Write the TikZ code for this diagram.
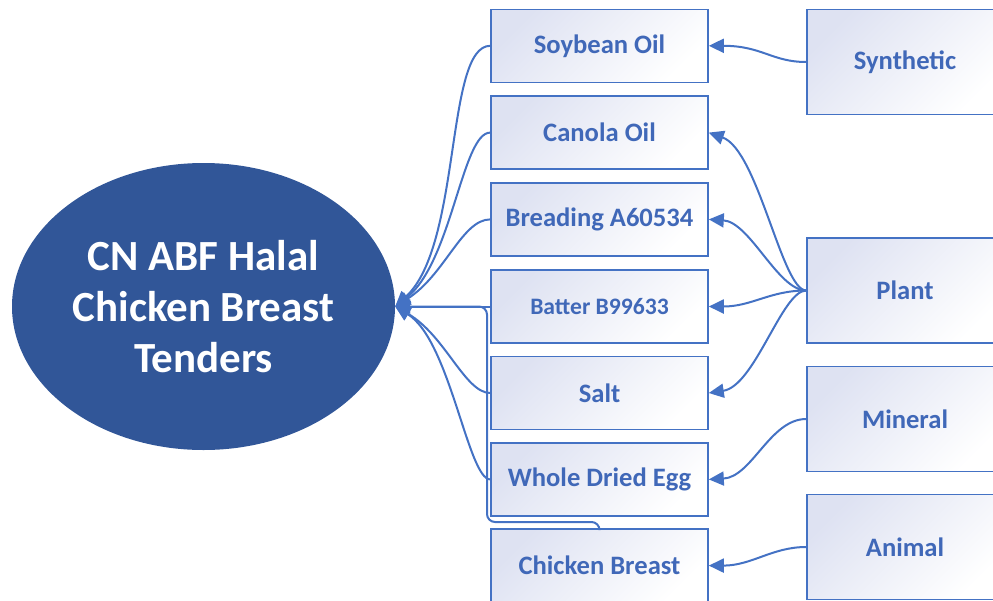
\documentclass[tikz,border=0pt]{standalone}
\usepackage{fontspec}
\setmainfont{Carlito}
\usepackage{tikz}
\usetikzlibrary{shapes.geometric,arrows.meta}
\definecolor{ovalblue}{RGB}{49,86,152}
\definecolor{lineblue}{RGB}{68,114,196}
\definecolor{textblue}{RGB}{64,104,184}
\definecolor{boxtint}{RGB}{222,226,242}
\tikzset{ingr/.style={draw=lineblue,line width=1.6pt,top color=boxtint,bottom color=white,shading angle=45,
    minimum width=217pt,minimum height=73pt,inner sep=0pt,text=textblue,font=\fontsize{26.6}{32}\selectfont\bfseries},
    src/.style={ingr,minimum width=196pt,minimum height=105pt},
    link/.style={draw=lineblue,line width=2pt,-{Triangle[length=15pt,width=14pt]}}}

\begin{document}
\begin{tikzpicture}[x=1pt,y=1pt,yscale=-1,xscale=1]
\useasboundingbox (0,0) rectangle (993,600);

%Shape: Ellipse
\node (cn) [ellipse,fill=ovalblue,minimum width=383pt,minimum height=287pt,inner sep=0pt,align=center,text=white,font=\fontsize{43}{51}\selectfont\bfseries] at (203.5,306.5) {CN ABF Halal\\Chicken Breast\\Tenders};

%Shape: Rectangle
\node (soy) [ingr] at (599.5,45.8) {Soybean Oil};
%Shape: Rectangle
\node (can) [ingr] at (599.5,132.6) {Canola Oil};
%Shape: Rectangle
\node (brd) [ingr] at (599.5,219.4) {Breading A60534};
%Shape: Rectangle
\node (bat) [ingr,font=\fontsize{23.6}{28}\selectfont\bfseries] at (599.5,306.5) {Batter B99633};
%Shape: Rectangle
\node (slt) [ingr] at (599.5,393) {Salt};
%Shape: Rectangle
\node (egg) [ingr] at (599.5,479.4) {Whole Dried Egg};
%Shape: Rectangle
\node (chk) [ingr] at (599.5,565.6) {Chicken Breast};

%Shape: Rectangle
\node (syn) [src] at (905,62) {Synthetic};
%Shape: Rectangle
\node (plant) [src] at (905,290.5) {Plant};
%Shape: Rectangle
\node (mnr) [src] at (905,419) {Mineral};
%Shape: Rectangle
\node (anm) [src] at (905,547) {Animal};

\coordinate (trunk) at (487,522);

%Curve Lines
\draw [link] (soy.west) .. controls (445,45.8) and (462,245) .. (cn.east);
%Curve Lines
\draw [link] (can.west) .. controls (462,132.6) and (452,262) .. (cn.east);
%Curve Lines
\draw [link] (brd.west) .. controls (462,219.4) and (445,275) .. (cn.east);
%Straight Lines
\draw [link] (bat.west) -- (cn.east);
%Curve Lines
\draw [link] (slt.west) .. controls (465,393) and (445,335) .. (cn.east);
%Curve Lines
\draw [link] (egg.west) .. controls (468,479.4) and (450,340) .. (cn.east);
%Straight Lines
\draw [link,rounded corners=8pt] (chk.north) |- (trunk) |- (cn.east);

%Curve Lines
\draw [link] (syn.west) .. controls (772,62) and (762,45.8) .. (soy.east);
%Curve Lines
\draw [link] (plant.west) .. controls (782,290.5) and (758,150) .. (can.east);
%Curve Lines
\draw [link] (plant.west) .. controls (778,290.5) and (750,222) .. (brd.east);
%Curve Lines
\draw [link] (plant.west) .. controls (770,290.5) and (752,306.5) .. (bat.east);
%Curve Lines
\draw [link] (plant.west) .. controls (782,290.5) and (755,386) .. (slt.east);
%Curve Lines
\draw [link] (mnr.west) .. controls (770,419) and (752,477) .. (egg.east);
%Curve Lines
\draw [link] (anm.west) .. controls (772,547) and (752,565.6) .. (chk.east);

\end{tikzpicture}
\end{document}
